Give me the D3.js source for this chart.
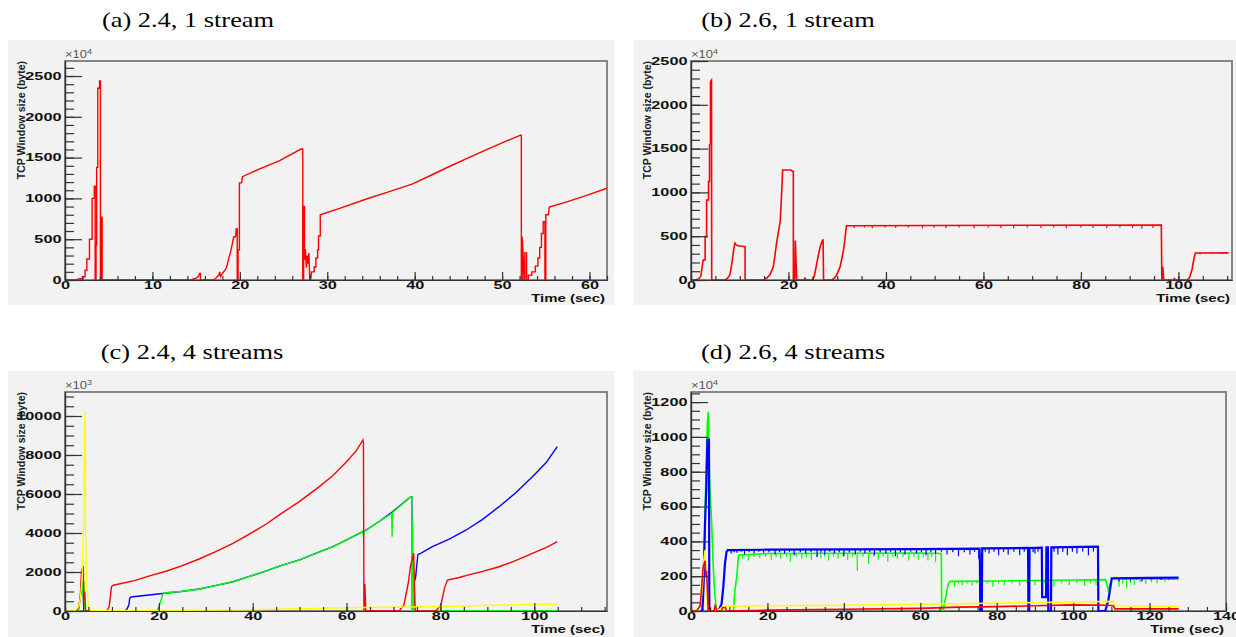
<!DOCTYPE html>
<html>
<head>
<meta charset="utf-8">
<script src="https://cdn.jsdelivr.net/npm/d3@7"></script>
<style>
body { margin: 0; background: #fff; }
svg { display: block; }
</style>
</head>
<body>
<svg id="fig" width="1236" height="637"></svg>
<script>
// panel titles
var titles = ["(a) 2.4, 1 stream", "(b) 2.6, 1 stream", "(c) 2.4, 4 streams", "(d) 2.6, 4 streams"];

// tick labels
var aXTicks = [0, 10, 20, 30, 40, 50, 60];
var aYTicks = [0, 500, 1000, 1500, 2000, 2500];
var bXTicks = [0, 20, 40, 60, 80, 100];
var bYTicks = [0, 500, 1000, 1500, 2000, 2500];
var cXTicks = [0, 20, 40, 60, 80, 100];
var cYTicks = [0, 2000, 4000, 6000, 8000, 10000];
var dXTicks = [0, 20, 40, 60, 80, 100, 120, 140];
var dYTicks = [0, 200, 400, 600, 800, 1000, 1200];

// (a) kernel 2.4, one stream: [time sec, window x1e4 byte]
var a24One = [[0,0],[1.3,0],[1.6,15],[2.0,15],[2.0,40],[2.3,40],[2.3,120],[2.5,120],[2.5,257],[2.8,257],[2.8,500],[3.1,500],[3.1,1000],[3.35,1000],[3.35,1150],[3.45,1150],[3.45,0],[3.55,0],[3.55,430],[3.62,430],[3.62,1380],[3.75,1380],[3.75,2350],[3.95,2350],[3.95,2440],[4.05,2440],[4.05,0],[4.15,0],[4.15,770],[4.25,770],[4.25,0],
  [14.4,0],[14.8,15],[15.1,30],[15.3,50],[15.4,80],[15.5,80],[15.5,0],[16.9,0],[17.2,15],[17.4,40],[17.6,60],[17.7,100],[17.8,40],[18.0,80],[18.3,120],[18.5,160],[18.7,250],[19.0,370],[19.3,530],[19.5,530],[19.6,630],[19.7,630],[19.7,0],[19.8,0],[19.8,370],[19.95,370],[19.95,1190],[20.2,1190],[20.3,1266],[22.2,1360],[24.5,1460],[27.0,1605],[27.2,1605],[27.2,0],
  [27.3,0],[27.3,900],[27.4,900],[27.4,250],[27.5,380],[27.6,150],[27.7,300],[27.8,200],[27.9,330],[28.0,0],[28.1,0],[28.2,100],[28.5,100],[28.5,160],[28.7,160],[28.7,270],[28.9,270],[28.9,370],[29.0,370],[29.0,540],[29.2,540],[29.2,800],[31.5,880],[34.4,990],[37,1080],[39.7,1176],[42,1290],[43.9,1388],[46,1490],[48.1,1592],[50,1680],[52.1,1776],[52.2,1776],[52.2,0],
  [52.3,0],[52.3,530],[52.4,330],[52.5,0],[52.6,0],[52.6,330],[52.8,330],[52.8,0],[53.0,0],[53.0,60],[53.4,60],[53.4,100],[53.8,100],[53.8,170],[54.1,170],[54.1,270],[54.3,270],[54.3,400],[54.5,400],[54.5,570],[54.7,570],[54.7,714],[54.9,714],[54.9,0],[55.0,0],[55.0,800],[55.3,800],[55.4,894],[57.5,960],[59.5,1030],[62,1125]];

// (b) kernel 2.6, one stream
var b26One = [[0,0],[0.8,0],[1.5,10],[2.0,40],[2.5,228],[2.9,228],[2.9,495],[3.2,495],[3.2,913],[3.6,913],[3.6,1123],[3.8,1123],[3.8,1542],[4.0,1560],[4.0,2265],[4.2,2280],[4.25,0],
  [7.0,0],[7.5,20],[8.0,60],[8.4,194],[8.7,323],[9.0,421],[9.3,400],[9.6,390],[10.5,385],[11.1,380],[11.1,0],
  [14.85,0],[15.5,20],[16.2,60],[16.9,150],[17.6,437],[18.3,666],[18.6,990],[18.8,1256],[20.5,1256],[20.8,1240],[21.0,1240],[21.0,0],[21.3,0],[21.4,450],[21.7,0],[23.2,0],[23.4,20],[23.6,0],
  [24.8,0],[25.3,40],[25.8,190],[26.5,380],[27.0,457],[27.1,457],[27.2,0],
  [28.9,0],[29.4,20],[29.9,60],[30.6,152],[31.3,343],[31.6,476],[31.9,620],[96.5,628],[96.6,0],[96.8,150],[97.0,0],[99.0,0],[99.2,15],[99.4,0],
  [101.8,0],[102.3,30],[102.8,120],[103.2,250],[103.5,308],[110.3,310]];
// short drops off the (b) plateau: [time, top, bottom]
var b26Dips = [[33.5,620,595],[35.6,620,600],[37.2,620,590],[39.8,621,600],[42,621,595],[44.6,621,600],[47.5,622,590],[49.9,622,600],[52.3,622,595],[55,623,600],[58.1,623,590],[61,623,600],[63.6,624,595],[66.2,624,590],[69,624,600],[71.8,625,595],[74.4,625,600],[77,625,590],[80,626,600],[82.5,626,595],[85.3,626,590],[88,627,600],[90.6,627,595],[92.5,627,585],[94.8,628,595],[104.5,309,295],[106.8,309,298],[108.9,310,296]];

// (c) kernel 2.4, four streams (x1e3 byte)
var c24Red = [[0,0],[2.5,0],[3.0,300],[3.3,800],[3.5,2000],[3.7,2200],[3.9,2300],[4.0,600],[4.2,1000],[4.4,0],[8.9,0],[9.4,200],[9.7,800],[9.9,1250],[10.3,1320],[14.8,1560],[18,1800],[21.7,2050],[25,2330],[28.7,2680],[32,3030],[35.8,3470],[39,3900],[42.9,4460],[46,4980],[50,5620],[54.2,6380],[57.1,6950],[60,7650],[62,8200],[63.5,8770],[63.6,8600],[63.7,0],[63.9,1400],[64.1,0],[71.2,0],[72.2,300],[72.8,1000],[73.2,1500],[73.6,2270],[74.3,2970],[74.6,0],[79,0],[80.1,300],[80.9,1200],[81.5,1590],[84,1720],[86,1850],[89,2030],[92.5,2270],[96,2580],[99.6,2960],[102.5,3250],[104.9,3560]];
var c24Blue = [[0,0],[2.8,0],[3.2,600],[3.5,1100],[3.8,1500],[4.0,0],[12.8,0],[13.2,100],[13.6,300],[13.8,650],[14.1,720],[19.8,870],[24.7,1000],[28.7,1130],[32,1300],[35.8,1500],[39,1750],[42.9,2060],[46,2330],[50,2620],[53,2920],[57.1,3300],[60,3650],[64.2,4155],[67,4600],[69.8,5090],[73.7,5860],[73.9,5860],[74,0],[74.1,1250],[74.7,1700],[75.2,2900],[75.8,2960],[78.3,3300],[82,3700],[85.5,4155],[89,4700],[92.5,5350],[96,6050],[99.6,6890],[102.5,7600],[104.9,8430]];
var c24Green = [[0,0],[2.8,0],[3.1,400],[3.4,1300],[3.6,1600],[3.8,800],[4.0,1500],[4.2,0],[19.5,0],[20,200],[20.4,500],[20.9,900],[21.8,950],[24.7,1000],[28.7,1130],[32,1300],[35.8,1500],[39,1750],[42.9,2060],[46,2330],[50,2620],[53,2920],[57.1,3300],[60,3650],[63.5,4100],[63.6,3800],[63.7,4100],[64.2,4155],[67,4600],[69.6,5000],[69.7,3810],[69.8,5050],[73.7,5860],[73.9,5860],[73.9,0],[74.1,4600],[74.2,0],[74.4,1500],[74.6,0],[104.9,0]];
var c24Yellow = [[0,0],[2.0,0],[2.5,100],[3.0,300],[3.3,700],[3.6,1500],[3.8,3000],[4.0,5100],[4.1,8940],[4.3,10225],[4.4,3900],[4.6,1200],[4.8,990],[5.0,200],[5.3,0],[6,20],[20,30],[40,60],[50,120],[63.3,180],[79,220],[89,280],[99,330],[104.9,360]];

// (d) kernel 2.6, four streams (x1e4 byte)
var d26Red = [[0,0],[1.5,0],[2.4,30],[2.8,140],[3.2,255],[3.66,289],[3.9,200],[4.1,230],[4.3,120],[4.5,0],[6.0,0],[6.3,30],[6.8,0],[8.0,0],[8.3,20],[9.0,20],[9.3,0],[20,5],[40,10],[60,15],[70,22],[80,25],[90,30],[100,35],[109,33],[110.5,30],[111,12],[127.6,12]];
var d26Yellow = [[0,0],[2.0,0],[2.6,50],[3.0,150],[3.4,300],[3.7,350],[3.9,200],[4.2,60],[4.4,0],[6.5,0],[7.5,10],[8.0,20],[9.0,28],[20,30],[40,33],[65,40],[80,45],[100,52],[110.5,55],[111,30],[127.6,28]];
var d26Blue = [[0,0],[3.0,0],[3.3,150],[3.66,500],[4.0,700],[4.3,985],[4.7,985],[4.8,0],[7.15,0],[8.0,40],[8.46,140],[8.9,275],[9.3,340],[9.6,350],[20,352],[40,354],[60,356],[75.5,358],[75.6,280],[75.7,0],[76.1,0],[76.2,360],[88.2,362],[88.3,0],[88.5,0],[88.6,362],[91.8,364],[91.9,80],[92.9,80],[93.0,365],[93.4,365],[93.5,0],[94.2,0],[94.3,366],[106.5,370],[106.6,0],[108.4,0],[109.2,60],[109.7,130],[110.1,188],[120,190],[127.6,192]];
var d26Green = [[0,0],[2.8,0],[3.2,197],[3.66,523],[3.93,810],[4.28,1080],[4.54,1145],[4.71,900],[4.97,695],[5.41,505],[5.85,236],[6.28,82],[6.72,0],[11.1,0],[11.5,120],[12.0,200],[12.4,312],[12.6,322],[20,330],[40,332],[60,333],[65.5,330],[65.6,0],[66.0,0],[66.5,63],[67.0,120],[67.4,159],[67.8,170],[80,172],[100,178],[108.5,180],[109.2,120],[110.1,185],[127.6,182]];
var d26BlueDips = [[10.5,352,330],[11.3,352,338],[12,352,335],[13.1,352,340],[14,352,325],[15.2,352,338],[16.5,352,330],[17.7,352,340],[19,352,335],[20.4,352,338],[22,352,325],[23.2,352,338],[24.5,353,330],[25.8,353,340],[27,353,320],[28.6,353,338],[30,353,330],[31.4,353,338],[33,353,310],[34,353,335],[35,353,325],[36.3,353,340],[37.5,354,330],[38.8,354,338],[40,354,315],[41.4,354,338],[43,354,325],[44.3,354,340],[45.5,354,330],[46.8,354,338],[48,355,320],[49.5,355,338],[51,355,330],[52.2,355,340],[53.5,355,315],[54.8,355,338],[56,355,325],[57.5,355,340],[59,356,330],[60.3,356,338],[61.5,356,320],[62.8,356,338],[64,356,330],[65.5,356,340],[67,357,325],[68.5,357,338],[70,357,315],[71.5,357,338],[73,357,325],[74.2,357,340],[75.3,358,300],[77,359,340],[78,360,330],[79.3,360,340],[80.5,360,320],[81.8,360,340],[83,361,325],[84.5,361,340],[86,361,320],[87.2,362,340],[89.5,362,338],[90,363,330],[90.8,363,340],[95,366,340],[96,366,325],[97.3,366,340],[98.5,367,320],[99.8,367,340],[101,368,330],[102.5,368,342],[104,369,320],[105.3,369,342],[112,190,170],[113.5,190,180],[115,190,175],[116.5,190,180],[118,190,170],[120.5,190,180],[123,191,178],[125,191,180]];
var d26GreenDips = [[13.5,325,300],[15,326,290],[16.5,327,310],[18,328,305],[19.5,329,312],[21,330,295],[22.3,330,312],[23.5,330,300],[25,330,312],[26,331,285],[27.5,331,312],[29,331,300],[30.2,331,310],[31.5,331,295],[33,331,312],[34,331,305],[35,331,312],[36,332,290],[37.3,332,312],[38.5,332,300],[39.8,332,312],[41,332,295],[42.3,332,312],[43.5,332,230],[45,332,312],[46.5,332,270],[47.8,332,312],[49,332,295],[50.3,332,312],[51.5,332,285],[52.8,332,312],[54,333,300],[55.5,333,312],[57,333,290],[58.3,333,312],[59.5,333,295],[60.8,333,312],[62,333,290],[63,333,310],[64,332,280],[69,170,140],[70,170,158],[71,170,150],[72.3,170,158],[73.5,170,145],[74.8,170,158],[76,171,150],[77.5,171,158],[79,171,140],[80.5,172,158],[82,172,150],[84,172,158],[86,173,145],[88,173,158],[90,174,150],[92.5,175,158],[95,176,140],[97,177,158],[99,178,150],[101,178,160],[103,179,145],[104.5,179,160],[106,179,150],[112,185,140],[113,185,160],[114,185,130],[115,184,160],[116,184,150],[117.5,184,165],[119,183,155],[120.5,183,165],[122,183,160],[124,183,168]];

var RED = "#ff0000", BLUE = "#0000ff", GREEN = "#00ff00", YELLOW = "#ffff00";

var panels = [
    {key: "a", title: titles[0], tx: 188, ty: 27, bg: [8, 40, 614, 305], box: [65, 61, 607, 280],
     xMax: 62, yMax: 2684, xTicks: aXTicks, yTicks: aYTicks, xMinor: 2, yMinor: 100, exp: "4",
     series: [{data: a24One, color: RED, w: 1.4}]},
    {key: "b", title: titles[1], tx: 788, ty: 27, bg: [633, 40, 1236, 305], box: [691, 61, 1232, 280],
     xMax: 111, yMax: 2500, xTicks: bXTicks, yTicks: bYTicks, xMinor: 5, yMinor: 100, exp: "4",
     series: [{data: b26One, color: RED, w: 1.6, dips: b26Dips}]},
    {key: "c", title: titles[2], tx: 192, ty: 359, bg: [8, 371, 614, 637], box: [65, 392, 607, 611],
     xMax: 115.5, yMax: 11230, xTicks: cXTicks, yTicks: cYTicks, xMinor: 5, yMinor: 500, exp: "3",
     series: [{data: c24Blue, color: BLUE, w: 1.4}, {data: c24Green, color: GREEN, w: 1.4}, {data: c24Red, color: RED, w: 1.4}, {data: c24Yellow, color: YELLOW, w: 1.4}]},
    {key: "d", title: titles[3], tx: 793, ty: 359, bg: [633, 371, 1236, 637], box: [691, 392, 1226, 611],
     xMax: 140, yMax: 1258, xTicks: dXTicks, yTicks: dYTicks, xMinor: 5, yMinor: 50, exp: "4",
     series: [{data: d26Green, color: GREEN, w: 1.6, dips: d26GreenDips}, {data: d26Blue, color: BLUE, w: 2.2, dips: d26BlueDips}, {data: d26Yellow, color: YELLOW, w: 1.6}, {data: d26Red, color: RED, w: 1.6}]}
];

var svg = d3.select("#fig");
var defs = svg.append("defs");
var AXFONT = "'Liberation Sans', Arial, Helvetica, sans-serif";

// stretch axis labels sideways like the original ROOT export
function stretch(sel, sx) {
    sel.selectAll("text").each(function(){
        var tx = +this.getAttribute("x") || 0;
        this.setAttribute("x", 0);
        this.setAttribute("transform", "translate(" + tx + ",0) scale(" + sx + ",1)");
    });
}

function styleAxis(g) {
    g.attr("font-family", AXFONT).attr("font-size", 10.5).attr("font-weight", "bold");
    g.selectAll("path, line").attr("stroke", "#333").attr("stroke-width", 1.2);
    g.selectAll("text").attr("fill", "#111");
}

panels.forEach(function(p){
    var g = svg.append("g");
    var L = p.box[0], T = p.box[1], R = p.box[2], B = p.box[3];

    g.append("rect")
        .attr("x", p.bg[0]).attr("y", p.bg[1])
        .attr("width", p.bg[2] - p.bg[0]).attr("height", p.bg[3] - p.bg[1])
        .attr("fill", "#f2f2f2");

    g.append("text")
        .attr("transform", "translate(" + p.tx + "," + p.ty + ") scale(1.2,1)")
        .attr("text-anchor", "middle")
        .style("font-family", "'Liberation Serif', 'Times New Roman', serif")
        .style("font-size", "22px")
        .attr("fill", "#000")
        .text(p.title);

    g.append("rect")
        .attr("x", L).attr("y", T).attr("width", R - L).attr("height", B - T)
        .attr("fill", "none").attr("stroke", "#7a7a7a").attr("stroke-width", 1.8);

    var x = d3.scaleLinear().domain([0, p.xMax]).range([L, R]);
    var y = d3.scaleLinear().domain([0, p.yMax]).range([B, T]);

    defs.append("clipPath").attr("id", "clip-" + p.key)
        .append("rect").attr("x", L).attr("y", T).attr("width", R - L).attr("height", B - T);

    var plot = g.append("g").attr("clip-path", "url(#clip-" + p.key + ")");
    var line = d3.line().x(function(d){ return x(d[0]); }).y(function(d){ return y(d[1]); });

    p.series.forEach(function(s){
        if (s.dips) {
            plot.selectAll(null).data(s.dips).enter().append("line")
                .attr("x1", function(d){ return x(d[0]); })
                .attr("x2", function(d){ return x(d[0]); })
                .attr("y1", function(d){ return y(d[1]); })
                .attr("y2", function(d){ return y(d[2]); })
                .attr("stroke", s.color).attr("stroke-width", 1.2);
        }
        plot.append("path").datum(s.data)
            .attr("d", line)
            .attr("fill", "none")
            .attr("stroke", s.color)
            .attr("stroke-width", s.w)
            .attr("stroke-linejoin", "miter");
    });

    // minor ticks
    var xMinorVals = d3.range(0, p.xMax + 1e-9, p.xMinor);
    var yMinorVals = d3.range(0, p.yMax + 1e-9, p.yMinor);
    g.append("g").attr("transform", "translate(0," + B + ")")
        .call(d3.axisBottom(x).tickValues(xMinorVals).tickSize(-4).tickSizeOuter(0).tickFormat(""))
        .call(styleAxis);
    g.append("g").attr("transform", "translate(" + L + ",0)")
        .call(d3.axisLeft(y).tickValues(yMinorVals).tickSize(-9).tickSizeOuter(0).tickFormat(""))
        .call(styleAxis);

    // major ticks with labels
    var xa = g.append("g").attr("transform", "translate(0," + B + ")")
        .call(d3.axisBottom(x).tickValues(p.xTicks).tickSize(-8).tickSizeOuter(0).tickPadding(2).tickFormat(d3.format("d")))
        .call(styleAxis);
    stretch(xa, 1.55);
    var ya = g.append("g").attr("transform", "translate(" + L + ",0)")
        .call(d3.axisLeft(y).tickValues(p.yTicks).tickSize(-17).tickSizeOuter(0).tickPadding(3.5).tickFormat(d3.format("d")))
        .call(styleAxis);
    stretch(ya, 1.55);

    // exponent
    var ex = g.append("text")
        .attr("transform", "translate(" + L + "," + (T - 3) + ") scale(1.3,1)")
        .style("font-family", AXFONT).style("font-size", "10px").attr("fill", "#555");
    ex.append("tspan").text("\u00d710");
    ex.append("tspan").attr("dy", -4).style("font-size", "7px").text(p.exp);

    // axis titles
    g.append("text")
        .attr("transform", "translate(" + (L - 40) + "," + T + ") rotate(-90)")
        .attr("text-anchor", "end")
        .style("font-family", AXFONT).style("font-size", "10.5px").style("font-weight", "bold")
        .attr("fill", "#222")
        .text("TCP Window size (byte)");
    g.append("text")
        .attr("transform", "translate(" + (R - 2) + "," + (B + 22) + ") scale(1.5,1)")
        .attr("text-anchor", "end")
        .style("font-family", AXFONT).style("font-size", "10px").style("font-weight", "bold")
        .attr("fill", "#111")
        .text("Time (sec)");
});
</script>
</body>
</html>
